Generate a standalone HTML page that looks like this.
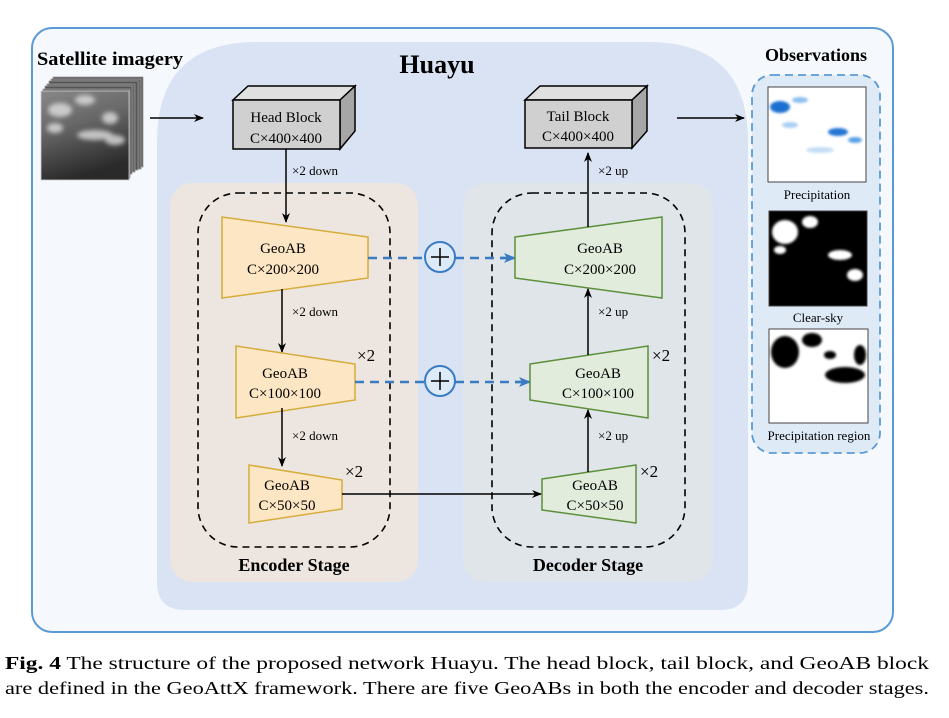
<!DOCTYPE html>
<html><head><meta charset="utf-8"><style>
body{margin:0;background:#fff;}
svg{display:block;}
text{font-family:"Liberation Serif",serif;}
</style></head><body>
<svg width="949" height="718" viewBox="0 0 949 718" xmlns="http://www.w3.org/2000/svg">
<defs>
<marker id="ab" markerWidth="10" markerHeight="8" refX="9" refY="4" orient="auto" markerUnits="userSpaceOnUse"><path d="M0,0 L10,4 L0,8 L3,4 Z" fill="#000"/></marker>
<marker id="abb" markerWidth="12" markerHeight="10" refX="11" refY="5" orient="auto" markerUnits="userSpaceOnUse"><path d="M0,0 L12,5 L0,10 L3,5 Z" fill="#3a7cc2"/></marker>
<linearGradient id="cl" x1="0" y1="0" x2="0.3" y2="1"><stop offset="0" stop-color="#888"/><stop offset="0.45" stop-color="#666"/><stop offset="1" stop-color="#2a2a2a"/></linearGradient>
<filter id="bl"><feGaussianBlur stdDeviation="2.5"/></filter>
<filter id="bl1"><feGaussianBlur stdDeviation="1.2"/></filter>
</defs>
<rect x="32" y="28" width="861" height="604" rx="20" fill="#f5f8fc" stroke="#5b9bd5" stroke-width="2"/>
<path d="M257,42 L648,42 Q748,42 748,142 L748,582 Q748,610 720,610 L185,610 Q157,610 157,582 L157,142 Q157,42 257,42 Z" fill="#dae3f3"/>
<rect x="170" y="183" width="248" height="399" rx="22" fill="#ede5df"/>
<rect x="463" y="183" width="250" height="399" rx="22" fill="#dfe5e9"/>
<rect x="198" y="193" width="192" height="354" rx="40" fill="none" stroke="#000" stroke-width="1.6" stroke-dasharray="7,5"/>
<rect x="492" y="193" width="193" height="354" rx="40" fill="none" stroke="#000" stroke-width="1.6" stroke-dasharray="7,5"/>
<text x="437" y="73" font-size="26" font-weight="bold" text-anchor="middle">Huayu</text>
<text x="110" y="65" font-size="19" font-weight="bold" text-anchor="middle" textLength="146" lengthAdjust="spacingAndGlyphs">Satellite imagery</text>
<text x="816" y="61" font-size="18" font-weight="bold" text-anchor="middle">Observations</text>
<text x="294" y="571" font-size="18" font-weight="bold" text-anchor="middle">Encoder Stage</text>
<text x="588" y="571" font-size="18" font-weight="bold" text-anchor="middle">Decoder Stage</text>
<g stroke="#999" stroke-width="0.8">
<rect x="53" y="77" width="90" height="90" fill="#555"/>
<rect x="51" y="79" width="90" height="90" fill="#666"/>
<rect x="49" y="81" width="89" height="89" fill="#555"/>
<rect x="47" y="84" width="88" height="88" fill="#666"/>
<rect x="45" y="86" width="87" height="88" fill="#555"/>
<rect x="43" y="89" width="87" height="89" fill="#666"/>
</g>
<rect x="41" y="91" width="88" height="89" fill="url(#cl)" stroke="#ccc" stroke-width="0.8"/>
<g filter="url(#bl)" fill="#e0e0e0" opacity="0.8">
<ellipse cx="60" cy="110" rx="12" ry="7"/>
<ellipse cx="85" cy="100" rx="10" ry="5"/>
<ellipse cx="110" cy="118" rx="8" ry="6"/>
<ellipse cx="95" cy="135" rx="18" ry="5"/>
<ellipse cx="115" cy="140" rx="10" ry="5"/>
<ellipse cx="55" cy="128" rx="8" ry="5"/>
</g>
<path d="M150,118 L203,118" stroke="#000" stroke-width="1.5" marker-end="url(#ab)"/>
<polygon points="233,100 248,86 355,86 340,100" fill="#e0e0e0" stroke="#000" stroke-width="1.5"/>
<polygon points="340,100 355,86 355,131 340,149" fill="#a6a6a6" stroke="#000" stroke-width="1.5"/>
<rect x="233" y="100" width="107" height="49" fill="#d0d0d0" stroke="#000" stroke-width="1.5"/>
<text x="286" y="122" font-size="15" text-anchor="middle">Head Block</text>
<text x="286" y="143" font-size="15" text-anchor="middle">C×400×400</text>
<polygon points="525,100 540,86 647,86 632,100" fill="#e0e0e0" stroke="#000" stroke-width="1.5"/>
<polygon points="632,100 647,86 647,131 632,148" fill="#a6a6a6" stroke="#000" stroke-width="1.5"/>
<rect x="525" y="100" width="107" height="48" fill="#d0d0d0" stroke="#000" stroke-width="1.5"/>
<text x="578" y="121" font-size="15" text-anchor="middle">Tail Block</text>
<text x="578" y="141" font-size="15" text-anchor="middle">C×400×400</text>
<path d="M677,118 L744,118" stroke="#000" stroke-width="1.5" marker-end="url(#ab)"/>
<path d="M286,149 L286,222" stroke="#000" stroke-width="1.5" marker-end="url(#ab)"/>
<text x="292" y="175" font-size="13">×2 down</text>
<polygon points="222,217 368,237 368,278 222,298" fill="#fde6c4" stroke="#d4ad3c" stroke-width="1.5"/>
<text x="283" y="253" font-size="15" text-anchor="middle">GeoAB</text>
<text x="283" y="274" font-size="15" text-anchor="middle">C×200×200</text>
<path d="M282,289 L282,352" stroke="#000" stroke-width="1.5" marker-end="url(#ab)"/>
<text x="292" y="316" font-size="13">×2 down</text>
<polygon points="236,346 355,364 355,400 236,418" fill="#fde6c4" stroke="#d4ad3c" stroke-width="1.5"/>
<text x="285" y="378" font-size="15" text-anchor="middle">GeoAB</text>
<text x="285" y="398" font-size="15" text-anchor="middle">C×100×100</text>
<text x="357" y="361" font-size="17">×2</text>
<path d="M282,408 L282,466" stroke="#000" stroke-width="1.5" marker-end="url(#ab)"/>
<text x="292" y="440" font-size="13">×2 down</text>
<polygon points="249,465 342,480 342,509 249,523" fill="#fde6c4" stroke="#d4ad3c" stroke-width="1.5"/>
<text x="287" y="490" font-size="15" text-anchor="middle">GeoAB</text>
<text x="287" y="510" font-size="15" text-anchor="middle">C×50×50</text>
<text x="345" y="477" font-size="17">×2</text>
<path d="M342,494 L541,494" stroke="#000" stroke-width="1.5" marker-end="url(#ab)"/>
<path d="M368,258 L425,258 M455,258 L513,258" stroke="#3a7cc2" stroke-width="2.5" stroke-dasharray="9,6" fill="none"/>
<path d="M500,258 L515,258" stroke="#3a7cc2" stroke-width="2.5" marker-end="url(#abb)"/>
<circle cx="440" cy="257" r="15" fill="#ddeaf7" stroke="#3a7cc2" stroke-width="2"/>
<path d="M431,257 L449,257 M440,248 L440,266" stroke="#000" stroke-width="1.5"/>
<path d="M355,382 L425,382 M455,382 L526,382" stroke="#3a7cc2" stroke-width="2.5" stroke-dasharray="9,6" fill="none"/>
<path d="M515,382 L530,382" stroke="#3a7cc2" stroke-width="2.5" marker-end="url(#abb)"/>
<circle cx="440" cy="381" r="15" fill="#ddeaf7" stroke="#3a7cc2" stroke-width="2"/>
<path d="M431,381 L449,381 M440,372 L440,390" stroke="#000" stroke-width="1.5"/>
<polygon points="515,237 662,217 662,298 515,278" fill="#e2ecdc" stroke="#5b8f3a" stroke-width="1.5"/>
<text x="600" y="253" font-size="15" text-anchor="middle">GeoAB</text>
<text x="600" y="274" font-size="15" text-anchor="middle">C×200×200</text>
<path d="M588,227 L588,153" stroke="#000" stroke-width="1.5" marker-end="url(#ab)"/>
<text x="598" y="175" font-size="13">×2 up</text>
<polygon points="530,364 648,346 648,418 530,400" fill="#e2ecdc" stroke="#5b8f3a" stroke-width="1.5"/>
<text x="598" y="378" font-size="15" text-anchor="middle">GeoAB</text>
<text x="598" y="398" font-size="15" text-anchor="middle">C×100×100</text>
<text x="652" y="361" font-size="17">×2</text>
<path d="M588,355 L588,289" stroke="#000" stroke-width="1.5" marker-end="url(#ab)"/>
<text x="598" y="316" font-size="13">×2 up</text>
<polygon points="542,479 636,465 636,523 542,510" fill="#e2ecdc" stroke="#5b8f3a" stroke-width="1.5"/>
<text x="595" y="490" font-size="15" text-anchor="middle">GeoAB</text>
<text x="595" y="510" font-size="15" text-anchor="middle">C×50×50</text>
<text x="640" y="477" font-size="17">×2</text>
<path d="M588,472 L588,410" stroke="#000" stroke-width="1.5" marker-end="url(#ab)"/>
<text x="598" y="440" font-size="13">×2 up</text>
<rect x="752" y="75" width="128" height="378" rx="20" fill="#deeaf6" stroke="#5b9bd5" stroke-width="1.8" stroke-dasharray="8,5"/>
<rect x="768" y="87" width="98" height="95" fill="#fff" stroke="#444" stroke-width="1"/>
<g filter="url(#bl1)">
<ellipse cx="780" cy="107" rx="10" ry="6" fill="#1d6fd0"/>
<ellipse cx="800" cy="100" rx="8" ry="3" fill="#8dc0f0"/>
<ellipse cx="838" cy="132" rx="10" ry="4" fill="#2676d4"/>
<ellipse cx="855" cy="140" rx="7" ry="3" fill="#5aa0e6"/>
<ellipse cx="820" cy="150" rx="14" ry="3" fill="#c5def5"/>
<ellipse cx="790" cy="125" rx="8" ry="3" fill="#a8cff2"/>
</g>
<text x="817" y="199" font-size="13" text-anchor="middle">Precipitation</text>
<rect x="769" y="211" width="98" height="95" fill="#000" stroke="#444" stroke-width="1"/>
<g fill="#fff" filter="url(#bl1)">
<ellipse cx="785" cy="232" rx="13" ry="12"/>
<ellipse cx="810" cy="222" rx="8" ry="6"/>
<ellipse cx="840" cy="255" rx="12" ry="5"/>
<ellipse cx="855" cy="275" rx="8" ry="6"/>
<ellipse cx="780" cy="250" rx="6" ry="4"/>
</g>
<text x="818" y="322" font-size="13" text-anchor="middle">Clear-sky</text>
<rect x="769" y="329" width="99" height="94" fill="#fff" stroke="#444" stroke-width="1"/>
<g fill="#000" filter="url(#bl1)">
<ellipse cx="785" cy="352" rx="14" ry="16"/>
<ellipse cx="812" cy="340" rx="10" ry="7"/>
<ellipse cx="845" cy="375" rx="20" ry="8"/>
<ellipse cx="860" cy="355" rx="6" ry="10"/>
<ellipse cx="830" cy="355" rx="6" ry="4"/>
</g>
<text x="819" y="440" font-size="13" text-anchor="middle">Precipitation region</text>
<text x="5" y="669" font-size="18" textLength="924" lengthAdjust="spacingAndGlyphs"><tspan font-weight="bold">Fig. 4</tspan>  The structure of the proposed network Huayu. The head block, tail block, and GeoAB block</text>
<text x="5" y="694" font-size="18" textLength="924" lengthAdjust="spacingAndGlyphs">are defined in the GeoAttX framework. There are five GeoABs in both the encoder and decoder stages.</text>
</svg>
</body></html>
